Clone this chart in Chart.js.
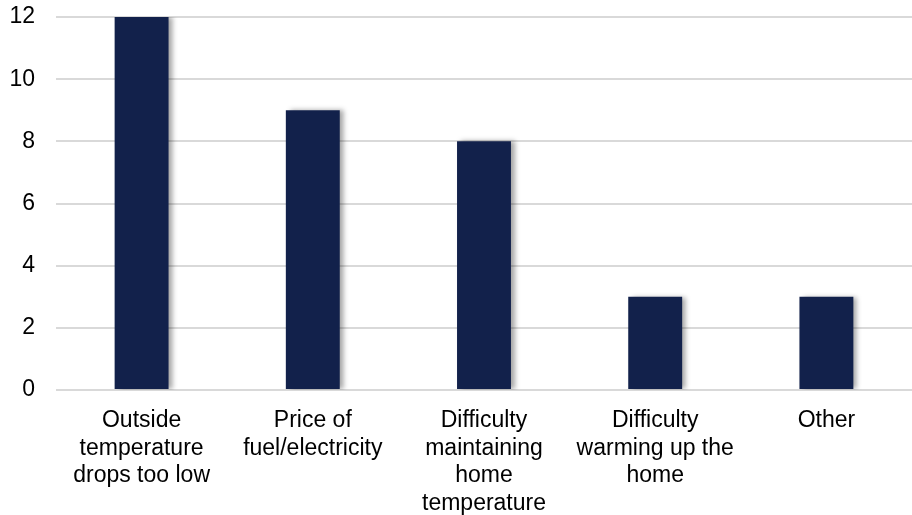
<!DOCTYPE html>
<html><head><meta charset="utf-8">
<script src="https://cdn.jsdelivr.net/npm/chart.js@4/dist/chart.umd.min.js"></script>
<style>html,body{margin:0;padding:0;background:#fff}#wrap{width:912px;height:515px;position:relative}</style>
</head><body><div id="wrap"><canvas id="c"></canvas></div>
<script>
const categories = [
  ["Outside", "temperature", "drops too low"],
  ["Price of", "fuel/electricity"],
  ["Difficulty", "maintaining", "home", "temperature"],
  ["Difficulty", "warming up the", "home"],
  ["Other"]
];
const values = [12, 9, 8, 3, 3];
const yTicks = [0, 2, 4, 6, 8, 10, 12];

const shadowPlugin = {
  id: 'shadow',
  beforeDatasetsDraw(chart) {
    const ctx = chart.ctx;
    ctx.save();
    ctx.shadowColor = 'rgba(0,0,0,0.35)';
    ctx.shadowOffsetX = 4;
    ctx.shadowOffsetY = 0;
    ctx.shadowBlur = 5;
  },
  afterDatasetsDraw(chart) { chart.ctx.restore(); }
};

new Chart(document.getElementById('c'), {
  type: 'bar',
  data: { labels: categories, datasets: [{ data: values, backgroundColor: '#12214B', categoryPercentage: 1, barPercentage: 0.315 }] },
  options: {
    responsive: true, maintainAspectRatio: false, animation: false,
    layout: { padding: { top: 17, right: 0, left: 0, bottom: 0 } },
    plugins: { legend: { display: false }, tooltip: { enabled: false } },
    scales: {
      x: {
        afterFit(axis) { axis.height = 125; axis.paddingTop = 0; axis.paddingBottom = 0; },
        grid: { display: false },
        border: { display: false },
        ticks: { color: '#000', font: { family: 'Liberation Sans, Arial', size: 23, lineHeight: 1.2 }, padding: 9, maxRotation: 0, autoSkip: false }
      },
      y: {
        min: 0, max: 12,
        afterBuildTicks(axis) { axis.ticks = yTicks.map(v => ({ value: v })); },
        afterFit(axis) { axis.width = 56; axis.paddingTop = 0; axis.paddingBottom = 0; },
        grid: { color: '#D9D9D9', lineWidth: 2, drawTicks: false },
        border: { display: false },
        ticks: { color: '#000', font: { family: 'Liberation Sans, Arial', size: 23 }, padding: 21 }
      }
    }
  },
  plugins: [shadowPlugin]
});
</script></body></html>
